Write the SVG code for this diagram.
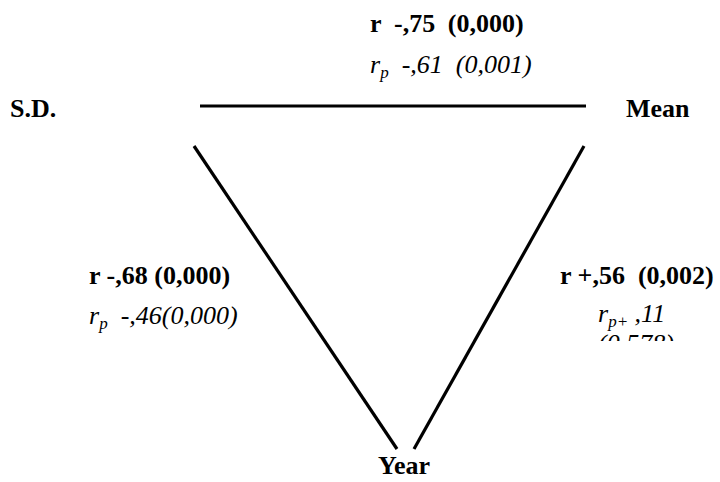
<svg xmlns="http://www.w3.org/2000/svg" width="720" height="482" viewBox="0 0 720 482">
<defs>
<style>
.b{font-family:"Liberation Serif","Times New Roman",serif;font-weight:bold;font-size:26px;fill:#000}
.i{font-family:"Liberation Serif","Times New Roman",serif;font-style:italic;font-size:26px;fill:#000}
.s{font-size:17px}
.ln{stroke:#000;stroke-width:3.2;fill:none}
</style>
<clipPath id="clipR"><rect x="590" y="290" width="110" height="51"/></clipPath>
</defs>
<g id="edges">
<line class="ln" x1="200" y1="106" x2="586" y2="106"/>
<line class="ln" x1="194" y1="146" x2="397" y2="449"/>
<line class="ln" x1="584" y1="146" x2="414" y2="449"/>
</g>
<g id="node-sd"><text class="b" x="10" y="117">S.D.</text></g>
<g id="node-mean"><text class="b" x="626" y="117">Mean</text></g>
<g id="node-year"><text class="b" x="378" y="474">Year</text></g>
<g id="label-top">
<text class="b" x="370" y="32" xml:space="preserve" font-size="27">r  -,75 <tspan dx="6">(0,000)</tspan></text>
<text class="i" x="370" y="73" xml:space="preserve">r<tspan class="s" dy="5">p</tspan><tspan dy="-5">  -,61  (0,001)</tspan></text>
</g>
<g id="label-left">
<text class="b" x="89" y="284">r -,68 (0,000)</text>
<text class="i" x="89" y="324" xml:space="preserve">r<tspan class="s" dy="5">p</tspan><tspan dy="-5">  -,46(0,000)</tspan></text>
</g>
<g id="label-right">
<text class="b" x="560" y="284" xml:space="preserve">r +,56  (0,002)</text>
<g clip-path="url(#clipR)">
<text class="i" x="598" y="322" xml:space="preserve">r<tspan class="s" dy="5">p+</tspan><tspan dy="-5"> ,11</tspan></text>
<text class="i" x="598" y="352">(0,578)</text>
</g>
</g>
</svg>
